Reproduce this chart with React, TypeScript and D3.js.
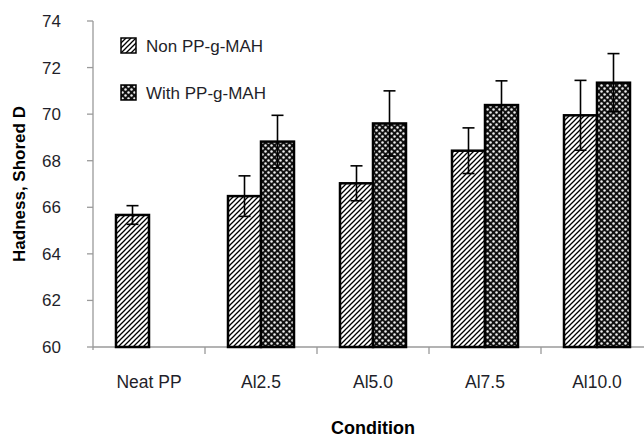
import React from "react";
import * as d3 from "d3";

const categories = ["Neat PP", "Al2.5", "Al5.0", "Al7.5", "Al10.0"];
const seriesNames = ["Non PP-g-MAH", "With PP-g-MAH"];
const nonValues = [65.67, 66.48, 67.03, 68.43, 69.95];
const nonErrors = [0.4, 0.87, 0.75, 0.98, 1.5];
const withValues = [null, 68.82, 69.6, 70.39, 71.35];
const withErrors = [null, 1.13, 1.4, 1.04, 1.25];
const yTicks = [60, 62, 64, 66, 68, 70, 72, 74];

const W = 644;
const H = 439;
const left = 93;
const right = 653;
const top = 21;
const bottom = 347;

export default function App() {
  const x = d3.scaleBand<string>().domain(categories).range([left, right]);
  const y = d3.scaleLinear().domain([60, 74]).range([bottom, top]);
  const inner = d3
    .scaleBand<string>()
    .domain(seriesNames)
    .range([0, 66])
    .padding(0);
  const groupOffset = (x.bandwidth() - 66) / 2;

  const bars: any[] = [];
  categories.forEach((c, i) => {
    [nonValues, withValues].forEach((vals, s) => {
      const v = vals[i];
      if (v == null) return;
      const err = (s === 0 ? nonErrors : withErrors)[i] as number;
      const bx = (x(c) as number) + groupOffset + (inner(seriesNames[s]) as number);
      bars.push({ key: c + s, s, bx, v, err });
    });
  });

  const tickColor = "#9a9a9a";
  const textColor = "#1f1f2a";

  return (
    <svg
      width={W}
      height={H}
      style={{ position: "absolute", left: 0, top: 0 }}
      fontFamily="'Liberation Sans', Arial, sans-serif"
    >
      <defs>
        <pattern id="hatch" width="5" height="5" patternUnits="userSpaceOnUse">
          <rect width="5" height="5" fill="#fff" />
          <path d="M-1,6 L6,-1 M-1,1 L1,-1 M4,6 L6,4" stroke="#000" strokeWidth="1.3" />
        </pattern>
        <pattern id="dots" width="6" height="6" patternUnits="userSpaceOnUse">
          <rect width="6" height="6" fill="#111" />
          <circle cx="1.5" cy="1.5" r="1.25" fill="#eee" />
          <circle cx="4.5" cy="4.5" r="1.25" fill="#eee" />
        </pattern>
      </defs>

      {/* y axis */}
      <line x1={left} x2={left} y1={top} y2={bottom + 3} stroke={tickColor} strokeWidth={1.3} />
      {yTicks.map((t) => (
        <g key={t}>
          <line x1={left - 6} x2={left} y1={y(t)} y2={y(t)} stroke={tickColor} strokeWidth={1.3} />
          <text
            x={left - 32}
            y={y(t)}
            dy="0.35em"
            textAnchor="end"
            fontSize={17}
            fill={textColor}
          >
            {t}
          </text>
        </g>
      ))}

      {/* x axis */}
      <line x1={left} x2={right} y1={bottom} y2={bottom} stroke={tickColor} strokeWidth={1.3} />
      {categories.map((c, i) =>
        i === 0 ? null : (
          <line
            key={c}
            x1={x(c)}
            x2={x(c)}
            y1={bottom}
            y2={bottom + 7}
            stroke={tickColor}
            strokeWidth={1.3}
          />
        )
      )}
      {categories.map((c) => (
        <text
          key={c}
          x={(x(c) as number) + x.bandwidth() / 2}
          y={388}
          textAnchor="middle"
          fontSize={17.5}
          fill={textColor}
        >
          {c}
        </text>
      ))}

      {/* bars */}
      {bars.map((b) => (
        <rect
          key={b.key}
          x={b.bx}
          y={y(b.v)}
          width={inner.bandwidth()}
          height={bottom - y(b.v)}
          fill={b.s === 0 ? "url(#hatch)" : "url(#dots)"}
          stroke="#000"
          strokeWidth={2.5}
        />
      ))}

      {/* error bars */}
      {bars.map((b) => {
        const cx = b.bx + inner.bandwidth() / 2;
        return (
          <g key={"e" + b.key} stroke="#000" strokeWidth={1.6}>
            <line x1={cx} x2={cx} y1={y(b.v + b.err)} y2={y(b.v - b.err)} />
            <line x1={cx - 6} x2={cx + 6} y1={y(b.v + b.err)} y2={y(b.v + b.err)} />
            <line x1={cx - 6} x2={cx + 6} y1={y(b.v - b.err)} y2={y(b.v - b.err)} />
          </g>
        );
      })}

      {/* legend */}
      {seriesNames.map((n, i) => (
        <g key={n} transform={`translate(121,${38 + i * 47})`}>
          <rect
            width={15}
            height={15}
            fill={i === 0 ? "url(#hatch)" : "url(#dots)"}
            stroke="#000"
            strokeWidth={1.5}
          />
          <text x={25} y={8} dy="0.35em" fontSize={17} fill={textColor}>
            {n}
          </text>
        </g>
      ))}

      {/* axis titles */}
      <text
        transform={`translate(25,${(top + bottom) / 2}) rotate(-90)`}
        textAnchor="middle"
        fontSize={17}
        fontWeight="bold"
        fill="#000"
      >
        Hadness, Shored D
      </text>
      <text
        x={(left + right) / 2}
        y={434}
        textAnchor="middle"
        fontSize={18}
        fontWeight="bold"
        fill="#000"
      >
        Condition
      </text>
    </svg>
  );
}
